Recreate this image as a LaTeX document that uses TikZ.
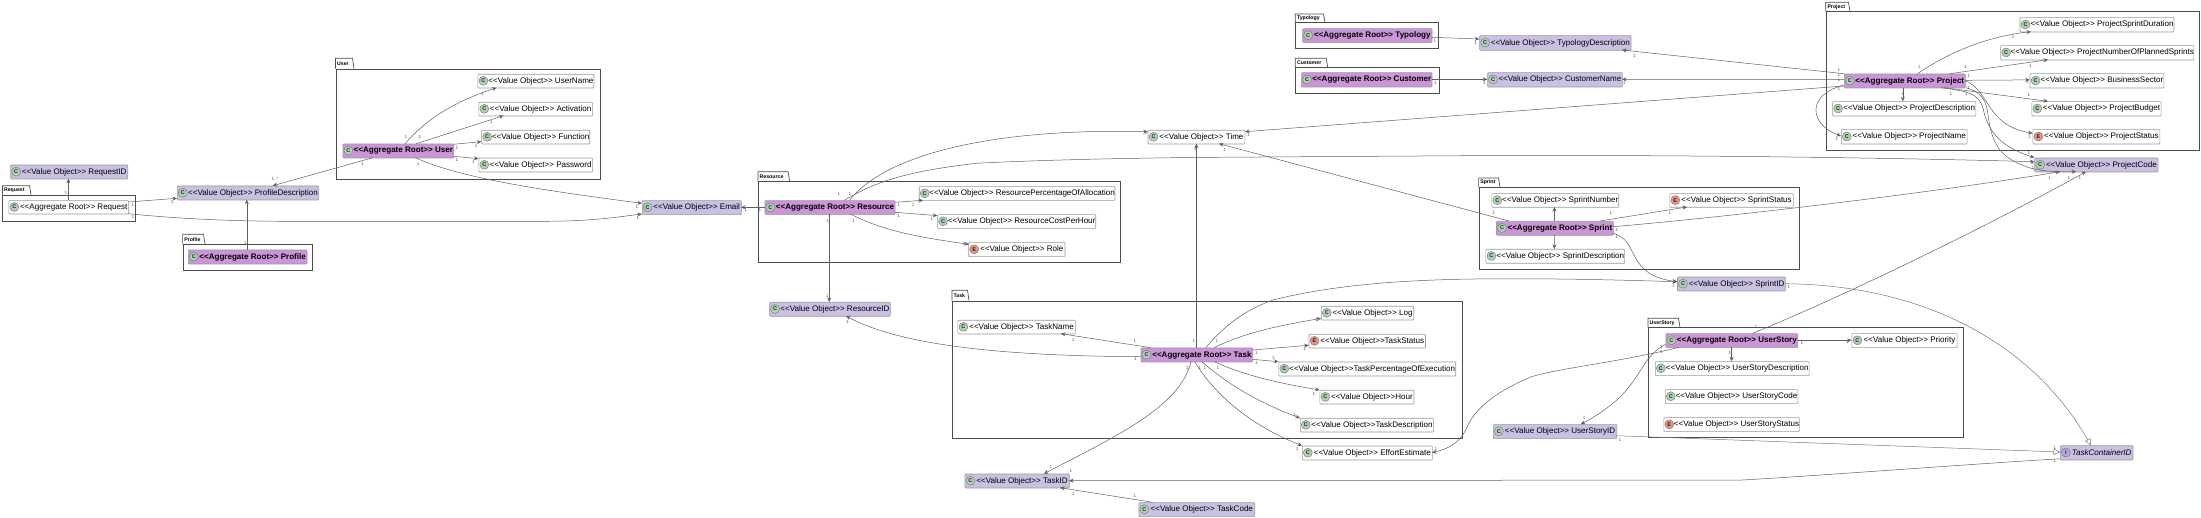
\documentclass[tikz,border=0pt]{standalone}
\usepackage{fontspec}
\setmainfont{Liberation Sans}
\usetikzlibrary{arrows.meta}
\definecolor{valcol}{HTML}{C9C0E2}
\definecolor{rootcol}{HTML}{CC95D8}
\definecolor{boxline}{HTML}{9A9AA0}
\definecolor{edgecol}{HTML}{606060}
\definecolor{iconc}{HTML}{ADD1B2}
\definecolor{icone}{HTML}{EB937F}
\definecolor{iconi}{HTML}{B4A7E5}
\tikzset{
  boxbase/.style={draw=boxline,line width=.6pt,rounded corners=.8pt,inner sep=0pt,anchor=north west,font=\fontsize{8.05}{9}\selectfont,text=black},
  vo/.style={boxbase,fill=valcol},
  plain/.style={boxbase,fill=white},
  root/.style={boxbase,fill=rootcol,font=\fontsize{8.05}{9}\selectfont\bfseries,text=black},
  iface/.style={boxbase,fill=valcol,font=\fontsize{8.05}{9}\selectfont\itshape},
  icon/.style={circle,draw=black!55,line width=.4pt,inner sep=0pt,minimum size=9pt,font=\fontsize{5.5}{6}\selectfont\bfseries,text=black!85},
  ic/.style={icon,fill=iconc},
  ie/.style={icon,fill=icone},
  ii/.style={icon,fill=iconi},
  pkgline/.style={draw=black!70,line width=.7pt},
  pkgtext/.style={inner sep=0pt,anchor=west,font=\fontsize{5.2}{6}\selectfont\bfseries,text=black},
  edge/.style={draw=edgecol,line width=.5pt,-{Stealth[length=4.5pt,width=4pt,inset=1.5pt]}},
  realize/.style={draw=edgecol!85,line width=.5pt,-{Triangle[open,length=6.5pt,width=6pt]}},
  mult/.style={inner sep=0pt,font=\fontsize{4.6}{5}\selectfont,text=black!65},
}
\newcommand{\pkg}[8]{% id x1 ytab xtab ybody x2 y2 label
  \draw[pkgline] (#2,#5) -- (#2,#3) -- (#4-1.5,#3) -- (#4,#5);
  \node[draw=black!70,line width=.7pt,inner sep=0pt,anchor=north west,minimum width={(#6-#2)*1pt},minimum height={(#7-#5)*1pt}] (#1) at (#2,#5) {};
  \node[pkgtext] (#1-t) at (#2+1.5,{(#3+#5)/2}) {#8};
}
\newcommand{\cls}[9]{% id x1 y1 x2 y2 style iconstyle letter text
  \node[#6,minimum width={(#4-#2)*1pt},minimum height={(#5-#3)*1pt}] (#1) at (#2,#3) {\hspace*{10pt}#9};
  \node[#7] (#1-i) at (#2+5.8,{(#3+#5)/2}) {#8};
}
\newcommand{\VO}{<{}<Value Object>{}>}
\newcommand{\AR}{<{}<Aggregate Root>{}>}
\begin{document}
\begin{tikzpicture}[x=1pt,y=-1pt]
\useasboundingbox (0,0) rectangle (2201,518);
% packages
\pkg{pRequest}{2.4}{185.7}{31}{194.7}{134.5}{220.7}{Request}
\pkg{pProfile}{182.6}{234.3}{205}{244.3}{312.4}{270.3}{Profile}
\pkg{pUser}{335.5}{58.3}{354}{68.7}{600.3}{178.7}{User}
\pkg{pResource}{758}{171.7}{789.6}{181.3}{1120.4}{262.3}{Resource}
\pkg{pTask}{951.9}{290.3}{969}{300.7}{1461.6}{438.3}{Task}
\pkg{pUserStory}{1648}{318.3}{1680}{327.3}{1962.5}{437.3}{UserStory}
\pkg{pTypology}{1295.3}{14}{1325}{22.3}{1437.7}{48.3}{Typology}
\pkg{pCustomer}{1295.3}{58.3}{1327.7}{67.3}{1438.7}{93.3}{Customer}
\pkg{pProject}{1825.8}{2.3}{1850}{11.3}{2199}{149.7}{Project}
\pkg{pSprint}{1478.6}{178}{1500}{187.3}{1798.8}{269.3}{Sprint}
% classes
\cls{requestid}{10.4}{164.7}{127.4}{178.7}{vo}{ic}{C}{\VO{} RequestID}
\cls{request}{8.5}{200.3}{128.4}{213.7}{plain}{ic}{C}{\AR{} Request}
\cls{profdesc}{177}{185.7}{318.5}{199.7}{vo}{ic}{C}{\VO{} ProfileDescription}
\cls{profile}{188}{249.7}{306.7}{263.7}{root}{ic}{C}{\AR{} Profile}
\cls{user}{342.6}{143.7}{453.5}{157.7}{root}{ic}{C}{\AR{} User}
\cls{username}{477.6}{74}{593.7}{87.7}{plain}{ic}{C}{\VO{} UserName}
\cls{activation}{478.5}{102}{592.3}{115.7}{plain}{ic}{C}{\VO{} Activation}
\cls{function}{481.4}{130}{589.4}{143.7}{plain}{ic}{C}{\VO{} Function}
\cls{password}{478.5}{157.7}{592.3}{171.7}{plain}{ic}{C}{\VO{} Password}
\cls{email}{641.8}{200.3}{741}{214.3}{vo}{ic}{C}{\VO{} Email}
\cls{resource}{764.5}{200.3}{894.8}{214.3}{root}{ic}{C}{\AR{} Resource}
\cls{respct}{918.9}{186.3}{1114.7}{200.3}{plain}{ic}{C}{\VO{} ResourcePercentageOfAllocation}
\cls{rescost}{937.3}{214.3}{1095.4}{228.3}{plain}{ic}{C}{\VO{} ResourceCostPerHour}
\cls{role}{968.4}{242.3}{1064.7}{256.3}{plain}{ie}{E}{\VO{} Role}
\cls{resourceid}{769.3}{302}{890}{316}{vo}{ic}{C}{\VO{} ResourceID}
\cls{time}{1147.7}{130}{1244.5}{143.7}{plain}{ic}{C}{\VO{} Time}
\cls{taskname}{957.6}{320}{1075}{333.7}{plain}{ic}{C}{\VO{} TaskName}
\cls{log}{1321}{306}{1413.4}{319.7}{plain}{ic}{C}{\VO{} Log}
\cls{taskstatus}{1308.7}{334}{1425.2}{347.7}{plain}{ie}{E}{\VO{}TaskStatus}
\cls{task}{1140.7}{347.7}{1252.5}{361.7}{root}{ic}{C}{\AR{} Task}
\cls{taskpct}{1278.5}{361.7}{1455.4}{375.7}{plain}{ic}{C}{\VO{}TaskPercentageOfExecution}
\cls{hour}{1319.6}{390}{1413.7}{403.7}{plain}{ic}{C}{\VO{}Hour}
\cls{taskdesc}{1300}{418}{1433.3}{431.7}{plain}{ic}{C}{\VO{}TaskDescription}
\cls{effort}{1302}{445.7}{1432}{459.7}{plain}{ic}{C}{\VO{} EffortEstimate}
\cls{taskid}{964.6}{473.7}{1069}{487.7}{vo}{ic}{C}{\VO{} TaskID}
\cls{taskcode}{1138.6}{502.3}{1254.4}{516.3}{vo}{ic}{C}{\VO{} TaskCode}
\cls{usid}{1493}{424.3}{1616.5}{438.3}{vo}{ic}{C}{\VO{} UserStoryID}
\cls{userstory}{1665.6}{333.3}{1797.5}{347.3}{root}{ic}{C}{\AR{} UserStory}
\cls{priority}{1851.6}{333.3}{1956.8}{347.3}{plain}{ic}{C}{\VO{} Priority}
\cls{usdesc}{1655}{361.3}{1808.8}{375.3}{plain}{ic}{C}{\VO{} UserStoryDescription}
\cls{uscode}{1665}{389.3}{1797.5}{403.3}{plain}{ic}{C}{\VO{} UserStoryCode}
\cls{usstatus}{1663.5}{417.3}{1799}{431.3}{plain}{ie}{E}{\VO{} UserStoryStatus}
\cls{tc}{2060}{445.3}{2132.7}{459.7}{iface}{ii}{I}{TaskContainerID}
\cls{typology}{1302.3}{28.3}{1431.7}{42.3}{root}{ic}{C}{\AR{} Typology}
\cls{typdesc}{1479.3}{35.3}{1630.7}{50}{vo}{ic}{C}{\VO{} TypologyDescription}
\cls{customer}{1301.3}{72.3}{1431.7}{86.7}{root}{ic}{C}{\AR{} Customer}
\cls{custname}{1487.3}{72.3}{1622}{86.7}{vo}{ic}{C}{\VO{} CustomerName}
\cls{sprintdur}{2019.7}{17.3}{2173.7}{31.7}{plain}{ic}{C}{\VO{} ProjectSprintDuration}
\cls{planned}{2000.3}{45.3}{2192.5}{59.7}{plain}{ic}{C}{\VO{} ProjectNumberOfPlannedSprints}
\cls{business}{2029.7}{73.3}{2163.6}{87.7}{plain}{ic}{C}{\VO{} BusinessSector}
\cls{budget}{2031.5}{101.3}{2160.8}{115.7}{plain}{ic}{C}{\VO{} ProjectBudget}
\cls{pstatus}{2032.6}{129.3}{2159.6}{143.7}{plain}{ie}{E}{\VO{} ProjectStatus}
\cls{project}{1844}{73.7}{1965}{87.7}{root}{ic}{C}{\AR{} Project}
\cls{projdesc}{1832.3}{101.3}{1975.6}{115.7}{plain}{ic}{C}{\VO{} ProjectDescription}
\cls{projname}{1841}{129.3}{1966.8}{143.7}{plain}{ic}{C}{\VO{} ProjectName}
\cls{projcode}{2034.4}{157.7}{2157.8}{171.7}{vo}{ic}{C}{\VO{} ProjectCode}
\cls{sprintnum}{1491.5}{193.3}{1618.4}{207}{plain}{ic}{C}{\VO{} SprintNumber}
\cls{sprintstatus}{1669.5}{193.3}{1793}{207}{plain}{ie}{E}{\VO{} SprintStatus}
\cls{sprint}{1496.2}{221}{1613}{235}{root}{ic}{C}{\AR{} Sprint}
\cls{sprintdesc}{1485.6}{249}{1624.3}{263}{plain}{ic}{C}{\VO{} SprintDescription}
\cls{sprintid}{1677.2}{276.7}{1785.3}{290.7}{vo}{ic}{C}{\VO{} SprintID}
% connectors
\draw[edge] ([shift={(59.9,0)}]request.north west) -- ([shift={(58,14)}]requestid.north west);
\draw[edge] ([shift={(119.9,1.7)}]request.north west) -- ([shift={(0,12.6)}]profdesc.north west);
\draw[edge] ([shift={(119.9,13.4)}]request.north west) .. controls (180,219) and (236,221.3) .. (290,221.3) -- (540,221.3) .. controls (590,221.3) and (610,218) .. ([shift={(0,13.7)}]email.north west);
\draw[edge] ([shift={(58.8,0)}]profile.north west) -- ([shift={(69.8,14)}]profdesc.north west);
\draw[edge] ([shift={(30.2,14)}]user.north west) -- ([shift={(95.8,0)}]profdesc.north west);
\draw[edge] ([shift={(62.4,0)}]user.north west) .. controls (430,115) and (460,100) .. ([shift={(18.9,13.7)}]username.north west);
\draw[edge] ([shift={(73.6,0)}]user.north west) -- ([shift={(25,13.7)}]activation.north west);
\draw[edge] ([shift={(110.9,0.6)}]user.north west) -- ([shift={(0,11.7)}]function.north west);
\draw[edge] ([shift={(110.9,12.6)}]user.north west) -- ([shift={(0,1)}]password.north west);
\draw[edge] ([shift={(72.7,14)}]user.north west) .. controls (460,178) and (540,190) .. ([shift={(0,3)}]email.north west);
\draw[edge] ([shift={(0,7)}]resource.north west) -- ([shift={(99.2,7)}]email.north west);
\draw[edge] ([shift={(85,0)}]resource.north west) .. controls (885,155) and (990,128) .. ([shift={(0,1.7)}]time.north west);
\draw[edge] ([shift={(80,0)}]resource.north west) .. controls (880,178) and (920,170) .. (976,163.3) .. controls (1040,160) and (1130,158) .. (1212,157.3) -- (1500,155.5) .. controls (1700,155) and (1900,158) .. ([shift={(0,4)}]projcode.north west);
\draw[edge] ([shift={(130.3,2)}]resource.north west) -- ([shift={(4.1,14)}]respct.north west);
\draw[edge] ([shift={(130.3,12)}]resource.north west) -- ([shift={(0,1.3)}]rescost.north west);
\draw[edge] ([shift={(86.5,14)}]resource.north west) .. controls (885,232) and (925,238) .. ([shift={(0.5,2)}]role.north west);
\draw[edge] ([shift={(64.7,14)}]resource.north west) -- ([shift={(59.9,0)}]resourceid.north west);
\draw[edge] ([shift={(0,9)}]task.north west) .. controls (1000,356) and (900,345) .. ([shift={(76.7,14)}]resourceid.north west);
\draw[edge] ([shift={(10,0)}]task.north west) -- ([shift={(103.4,13.7)}]taskname.north west);
\draw[edge] ([shift={(55.7,0)}]task.north west) -- ([shift={(48.7,13.7)}]time.north west);
\draw[edge] ([shift={(73.3,0)}]task.north west) .. controls (1250,330) and (1290,324) .. ([shift={(0,12.3)}]log.north west);
\draw[edge] ([shift={(65,0)}]task.north west) .. controls (1225,325) and (1245,310) .. (1273,300) .. controls (1340,283) and (1420,279) .. (1500,278.8) .. controls (1560,278.5) and (1620,280) .. ([shift={(0,5)}]sprintid.north west);
\draw[edge] ([shift={(111.8,2.3)}]task.north west) -- ([shift={(0,11.3)}]taskstatus.north west);
\draw[edge] ([shift={(111.8,11.6)}]task.north west) -- (taskpct.north west);
\draw[edge] ([shift={(73.7,14)}]task.north west) .. controls (1250,378) and (1290,385) .. (hour.north west);
\draw[edge] ([shift={(61.1,14)}]task.north west) .. controls (1232,388) and (1265,405) .. (taskdesc.north west);
\draw[edge] ([shift={(54,14)}]task.north west) .. controls (1215,395) and (1250,425) .. (effort.north west);
\draw[edge] ([shift={(50.3,14)}]task.north west) .. controls (1180,405) and (1125,432) .. ([shift={(79.3,0)}]taskid.north west);
\draw[edge] ([shift={(14,0)}]taskcode.north west) -- ([shift={(95.4,14)}]taskid.north west);
\draw[edge] ([shift={(13.4,14)}]userstory.north west) .. controls (1620,362) and (1560,368) .. (1531.6,376.7) .. controls (1500,390) and (1478,405) .. (1468,425) .. controls (1462,440) and (1452,448) .. ([shift={(130,7)}]effort.north west);
\draw[edge] ([shift={(131.9,7)}]userstory.north west) -- ([shift={(0,7)}]priority.north west);
\draw[edge] ([shift={(66,14)}]userstory.north west) -- ([shift={(76.6,0)}]usdesc.north west);
\draw[edge] ([shift={(87,0)}]userstory.north west) .. controls (1840,298) and (1990,225) .. ([shift={(51.6,14)}]projcode.north west);
\draw[edge] ([shift={(0,11)}]userstory.north west) .. controls (1635,360) and (1645,390) .. ([shift={(87.7,0)}]usid.north west);
\draw[realize] ([shift={(123.5,11.4)}]usid.north west) -- ([shift={(0,6.7)}]tc.north west);
\draw[edge] ([shift={(0,13.5)}]tc.north west) .. controls (2000,462) and (1800,477) .. (1742,480) -- ([shift={(104.4,7)}]taskid.north west);
\draw[realize] ([shift={(108.1,7)}]sprintid.north west) .. controls (1920,285) and (2030,340) .. ([shift={(31,0)}]tc.north west);
\draw[edge] ([shift={(12.8,0)}]sprint.north west) -- ([shift={(71.3,13.7)}]time.north west);
\draw[edge] ([shift={(58.2,0)}]sprint.north west) -- ([shift={(62.9,13.7)}]sprintnum.north west);
\draw[edge] ([shift={(58.2,14)}]sprint.north west) -- ([shift={(68.8,0)}]sprintdesc.north west);
\draw[edge] ([shift={(103.8,0)}]sprint.north west) -- ([shift={(17.5,13.7)}]sprintstatus.north west);
\draw[edge] ([shift={(116.8,5.7)}]sprint.north west) .. controls (1750,215) and (1950,190) .. ([shift={(25.6,14)}]projcode.north west);
\draw[edge] ([shift={(116.8,12.3)}]sprint.north west) .. controls (1640,240) and (1625,275) .. ([shift={(0,5)}]sprintid.north west);
\draw[edge] ([shift={(129.4,9)}]typology.north west) -- ([shift={(0,3.7)}]typdesc.north west);
\draw[edge] ([shift={(130.4,7)}]customer.north west) -- ([shift={(0,7)}]custname.north west);
\draw[edge] (project.north west) -- ([shift={(142.7,14.7)}]typdesc.north west);
\draw[edge] ([shift={(0,6)}]project.north west) -- ([shift={(134.7,7)}]custname.north west);
\draw[edge] ([shift={(0,12.3)}]project.north west) -- ([shift={(97.3,1.7)}]time.north west);
\draw[edge] ([shift={(58.8,14)}]project.north west) -- ([shift={(70.5,0)}]projdesc.north west);
\draw[edge] ([shift={(0,11.3)}]project.north west) .. controls (1805,95) and (1810,125) .. ([shift={(0,6.7)}]projname.north west);
\draw[edge] ([shift={(73.5,0)}]project.north west) .. controls (1960,45) and (2000,35) .. ([shift={(11.3,14.4)}]sprintdur.north west);
\draw[edge] ([shift={(106,0)}]project.north west) -- ([shift={(47.7,14.4)}]planned.north west);
\draw[edge] ([shift={(121,6.6)}]project.north west) -- ([shift={(0,6.6)}]business.north west);
\draw[edge] ([shift={(100,14)}]project.north west) -- ([shift={(16.5,0)}]budget.north west);
\draw[edge] ([shift={(121,7)}]project.north west) .. controls (1990,90) and (1985,125) .. ([shift={(0,4)}]pstatus.north west);
\draw[edge] ([shift={(97,14)}]project.north west) .. controls (1965,91) and (1978,92) .. (1983,108) .. controls (1988,135) and (2005,148) .. (projcode.north west);
\draw[edge] ([shift={(122,14)}]project.north west) .. controls (1980,92) and (1986,98) .. (1988,115) .. controls (1992,145) and (2000,158) .. (2030,168) .. controls (2045,172) and (2060,172) .. ([shift={(41.6,14)}]projcode.north west);
% multiplicities
\foreach \mx/\my [count=\mi] in {66/192.7,133/205,172.2/201.7,133/216.7,637/206.7,638/218.3,245.4/242.7,405.8/136.7,420/136.7,482.3/94.3,491.3/122,456.8/148,476.2/145.7,456.8/160,473.3/161.7,362.4/163.7,418.1/163.7,839/193.7,850/193.7,898.6/205.3,913.2/204.7,898.6/216,932/218.7,853.3/221,964.2/244.3,827.8/220.7,827.3/295.7,847.6/322.3,759.8/210.3,745.7/210.3,1145.8/133.3,1224.7/149.7,1248.7/135,1195.4/149.3,1194/341.3,1217/341.3,1135/341.3,1073.2/340,1135.5/359.3,1316.7/320,1305/348.7,1256.3/353.3,1273.3/358,1256.3/363,1187.4/368.3,1200/368.3,1204.8/368.3,1218/368.3,1314/394,1295/415,1297.2/449.3,1050.9/466.7,1073.3/494,1135/496,1756/326.7,1801.8/343.3,1847.4/341.7,1730/353.3,1661.4/346.7,1661.4/351.7,1584.2/418.3,1620/440,1436/449,2055/447.7,2055/461,1071/471,1435/40.7,1475.6/42.7,1634.3/55.7,1838.8/70,1838.8/75,1838.8/80,1838.8/89,1919.2/66.7,1965.7/66.7,2013.2/36.7,2030.3/65.7,1968.6/76,1968.6/88.3,2027.4/82.3,1951/94,1966.3/94,2029/95,1902.8/94,1837/139.3,2029.7/136.7,2029/152.7,2033/163.3,2033/168.3,2049.7/177.7,2069/177.7,2080/177.7,1493.3/213.3,1610.8/213.3,1670/213.3,1616.7/230,1616.7/237,1673.6/286,1788.8/286.7,1624.3/83.3,1435.7/82.7,1484.5/82.7}
  \node[mult] (m\mi) at (\mx,\my) {1};
\node[mult] (mstar) at (275,179.3) {1..*};
\end{tikzpicture}
\end{document}
